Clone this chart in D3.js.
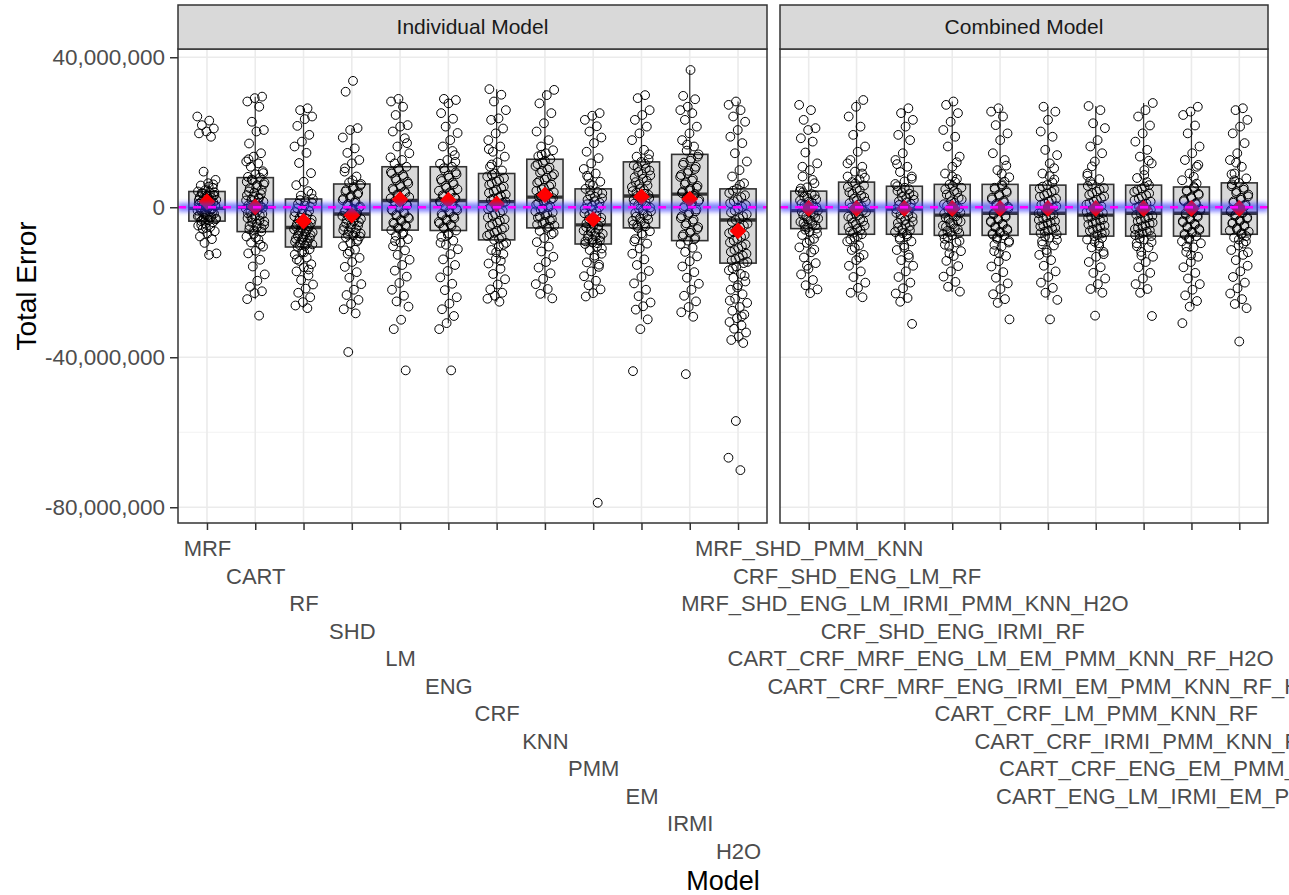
<!DOCTYPE html>
<html>
<head>
<meta charset="utf-8">
<script src="https://cdn.jsdelivr.net/npm/d3@7/dist/d3.min.js"></script>
<style>
  body { margin: 0; background: #fff; }
  text { font-family: 'Liberation Sans', Arial, sans-serif; }
</style>
</head>
<body>
<div id="chart"></div>
<script>
// all error values are in millions

let individualModels = ['MRF', 'CART', 'RF', 'SHD', 'LM', 'ENG', 'CRF', 'KNN', 'PMM', 'EM', 'IRMI', 'H2O']
let combinedModels = ['MRF_SHD_PMM_KNN', 'CRF_SHD_ENG_LM_RF', 'MRF_SHD_ENG_LM_IRMI_PMM_KNN_H2O', 'CRF_SHD_ENG_IRMI_RF',
  'CART_CRF_MRF_ENG_LM_EM_PMM_KNN_RF_H2O', 'CART_CRF_MRF_ENG_IRMI_EM_PMM_KNN_RF_H2O', 'CART_CRF_LM_PMM_KNN_RF',
  'CART_CRF_IRMI_PMM_KNN_RF', 'CART_CRF_ENG_EM_PMM_KNN_RF', 'CART_ENG_LM_IRMI_EM_PMM_KNN_RF_H2O']

// [lower whisker, q1, median, q3, upper whisker]
let individualBoxes = [
  [-12.7, -3.7, -0.3, 4.2, 9.5], [-24.5, -6.5, 0.0, 7.9, 29.5], [-26.9, -10.6, -5.4, 2.2, 26.4],
  [-28.3, -8.0, -1.8, 6.2, 21.1], [-26.5, -6.1, 1.8, 10.8, 28.9], [-30.9, -6.2, 1.8, 10.8, 28.9],
  [-25.2, -8.7, 1.5, 9.0, 31.5], [-24.3, -5.5, 2.7, 12.8, 31.3], [-23.8, -9.8, -4.7, 4.9, 25.1],
  [-29.9, -5.5, 3.0, 12.1, 29.9], [-29.2, -8.9, 3.5, 14.1, 36.6], [-36.2, -14.9, -3.4, 4.9, 28.2]
]
let combinedBoxes = [
  [-22.9, -5.7, -0.9, 4.3, 18.4], [-24.0, -7.2, -0.9, 6.7, 28.6], [-25.2, -7.2, -0.5, 5.6, 26.4],
  [-22.5, -7.5, -2.1, 6.1, 28.2], [-25.5, -7.5, -1.6, 6.1, 26.4], [-24.7, -7.2, -1.6, 5.9, 26.8],
  [-22.8, -7.7, -2.1, 6.1, 27.0], [-22.8, -7.7, -1.6, 5.9, 27.8], [-26.5, -7.7, -1.6, 5.4, 25.5],
  [-26.9, -7.2, -1.6, 6.5, 26.4]
]

let individualMeans = [1.5, 0.1, -3.7, -2.1, 2.1, 1.9, 0.9, 3.3, -3.2, 2.8, 2.2, -6.3]
let combinedMeans = [-0.3, -0.3, -0.3, -0.3, -0.3, -0.3, -0.3, -0.3, -0.3, -0.3]

let individualErrors = [
  [24.2, 23.1, 21.9, 21.0, 20.2, 19.7, 18.8, 9.5, 7.3, 6.4, 5.8, 5.2, 4.6, 4.2, 3.9, 3.6, 3.3, 3.0, 2.7, 2.5, 2.2, 2.0, 1.8, 1.5, 1.3, 1.1, 0.9, 0.7, 0.5, 0.3, 0.1, -0.1, -0.4, -0.6, -0.9, -1.1, -1.4, -1.7, -2.0, -2.3, -2.6, -2.9, -3.2, -3.5, -3.7, -4.0, -4.4, -4.9, -5.3, -5.8, -6.4, -7.0, -7.8, -8.5, -9.5, -12.3, -12.7,
    3.8, 3.1, 2.4, 1.9, 1.6, 0.8, 0.4, -0.2, -0.7, -1.2, -1.9, -2.4, -2.8, -3.3, 4.0, 2.9, 1.0, -0.5, -1.6, -3.0, 5.5, -4.7, 6.1, -5.5],
  [29.5, 29.1, 28.2, 26.8, 22.8, 20.6, 20.2, 17.0, 14.4, 13.5, 12.2, 11.7, 10.8, 9.6, 8.8, 8.1, 7.9, 7.2, 6.6, 5.9, 5.1, 4.6, 3.9, 3.2, 2.6, 2.0, 1.5, 1.0, 0.6, 0.3, 0.0, -0.4, -0.9, -1.3, -1.8, -2.4, -2.9, -3.5, -4.1, -4.7, -5.3, -5.9, -6.5, -7.1, -7.8, -8.6, -9.4, -10.5, -11.6, -12.3, -14.0, -15.8, -17.9, -19.6, -21.2, -22.4, -22.9, -24.5, -28.9,
    7.4, 6.1, 5.4, 4.2, 3.5, 2.8, 1.8, 1.2, 0.4, -0.2, -0.7, -1.6, -2.2, -3.1, -3.8, -4.4, -5.0, -5.6, -6.2, 6.8, 2.3, -2.6, 9.1, -8.1, 12.8, -10.0],
  [26.4, 25.9, 24.2, 23.5, 21.7, 19.3, 17.5, 16.2, 14.5, 11.8, 9.1, 6.8, 5.9, 4.3, 3.1, 2.2, 1.6, 0.9, 0.2, -0.6, -1.3, -2.0, -2.7, -3.3, -3.9, -4.5, -5.0, -5.4, -5.9, -6.4, -6.9, -7.4, -7.9, -8.4, -8.9, -9.4, -9.9, -10.3, -10.6, -11.2, -11.9, -12.6, -13.4, -14.3, -15.2, -16.0, -17.1, -18.2, -19.4, -20.6, -21.7, -22.8, -24.0, -25.3, -26.2, -26.9,
    1.9, 1.2, 0.5, -0.3, -1.0, -1.7, -2.4, -3.0, -3.6, -4.2, -4.8, -5.2, -5.7, -6.2, -6.7, -7.2, -7.7, -8.2, -8.7, -9.2, -9.7, -10.1, 3.6, -12.0, -13.9, -16.6],
  [33.7, 30.8, 21.1, 20.6, 18.6, 15.7, 14.5, 12.6, 11.7, 9.5, 8.2, 6.6, 6.2, 5.4, 4.6, 3.8, 3.0, 2.3, 1.6, 0.9, 0.2, -0.4, -1.0, -1.5, -1.8, -2.3, -2.8, -3.4, -4.0, -4.6, -5.2, -5.8, -6.4, -7.0, -7.5, -8.0, -8.7, -9.5, -10.4, -11.3, -12.4, -13.5, -14.6, -15.9, -17.3, -18.8, -20.5, -22.0, -23.4, -24.7, -25.8, -27.2, -28.3, -38.6,
    5.8, 5.0, 4.2, 3.4, 2.6, 1.9, 1.2, 0.5, -0.1, -0.7, -1.3, -2.0, -2.6, -3.1, -3.7, -4.3, -4.9, -5.5, -6.1, -6.7, -7.3, -7.8, 7.2, 10.4, -9.1, -11.8],
  [28.9, 28.2, 26.8, 24.6, 21.9, 21.5, 20.2, 18.4, 16.2, 14.4, 12.6, 11.7, 10.8, 9.9, 9.0, 8.1, 7.2, 6.3, 5.4, 4.6, 3.8, 3.1, 2.4, 1.8, 1.2, 0.5, -0.2, -0.9, -1.6, -2.3, -3.0, -3.7, -4.4, -5.1, -5.7, -6.1, -6.8, -7.6, -8.5, -9.4, -10.4, -11.5, -12.7, -14.0, -15.4, -16.9, -18.5, -20.2, -22.0, -23.6, -25.1, -26.5, -30.0, -32.5, -43.5,
    10.3, 9.4, 8.6, 7.7, 6.8, 5.9, 5.0, 4.2, 3.4, 2.7, 2.1, 1.5, 0.8, 0.1, -0.6, -1.3, -2.0, -2.7, -3.4, -4.1, -4.8, -5.4, 13.3, -7.2, -9.0, 17.1],
  [28.9, 28.6, 27.7, 25.1, 23.6, 21.5, 19.8, 17.9, 16.2, 13.9, 12.6, 11.6, 10.8, 9.8, 8.8, 7.9, 7.0, 6.1, 5.2, 4.4, 3.6, 2.9, 2.3, 1.8, 1.2, 0.6, -0.1, -0.8, -1.5, -2.2, -2.9, -3.6, -4.3, -5.0, -5.6, -6.2, -7.0, -7.9, -8.9, -10.0, -11.2, -12.5, -13.9, -15.4, -17.0, -18.7, -20.4, -22.1, -24.0, -25.7, -27.2, -29.0, -30.9, -32.5, -43.5,
    10.4, 9.3, 8.4, 7.5, 6.6, 5.7, 4.8, 4.0, 3.2, 2.6, 2.0, 1.5, 0.9, 0.3, -0.4, -1.1, -1.8, -2.5, -3.2, -3.9, -4.6, -5.3, 12.1, -7.4, -9.5, 15.0],
  [31.5, 30.0, 28.2, 25.9, 23.7, 23.3, 21.0, 19.7, 17.9, 16.2, 14.8, 13.5, 12.0, 10.8, 9.8, 9.0, 8.2, 7.3, 6.4, 5.5, 4.6, 3.8, 3.0, 2.3, 1.5, 0.8, 0.0, -0.9, -1.8, -2.7, -3.6, -4.5, -5.4, -6.3, -7.2, -8.0, -8.7, -9.5, -10.4, -11.4, -12.5, -13.7, -15.0, -16.4, -17.8, -19.2, -20.6, -21.9, -22.8, -23.6, -24.4, -25.2,
    8.6, 7.8, 6.9, 6.0, 5.1, 4.2, 3.4, 2.6, 1.9, 1.2, 0.4, -0.5, -1.4, -2.3, -3.2, -4.1, -5.0, -5.9, -6.8, -7.6, -8.4, 11.4, -10.0, -12.0, 15.5, -14.3],
  [31.3, 29.9, 27.7, 25.1, 22.4, 20.2, 17.9, 16.2, 15.2, 14.4, 13.6, 12.8, 11.9, 11.0, 10.1, 9.2, 8.3, 7.4, 6.5, 5.6, 4.8, 4.0, 3.3, 2.7, 2.1, 1.4, 0.7, 0.0, -0.7, -1.4, -2.1, -2.8, -3.5, -4.2, -4.9, -5.5, -6.3, -7.2, -8.2, -9.3, -10.5, -11.8, -13.2, -14.6, -16.1, -17.6, -19.1, -20.5, -21.8, -23.1, -24.3,
    12.4, 11.5, 10.6, 9.7, 8.8, 7.9, 7.0, 6.1, 5.2, 4.4, 3.6, 3.0, 2.4, 1.7, 1.0, 0.3, -0.4, -1.1, -1.8, -2.5, -3.2, -3.9, -4.6, -5.2, 14.0, -6.8],
  [25.1, 24.4, 23.3, 21.6, 20.2, 18.6, 17.1, 14.8, 13.1, 11.7, 10.2, 9.0, 7.9, 6.8, 5.8, 4.9, 4.1, 3.2, 2.4, 1.6, 0.8, 0.0, -0.8, -1.6, -2.4, -3.2, -3.9, -4.7, -5.3, -5.9, -6.5, -7.1, -7.7, -8.3, -8.9, -9.4, -9.8, -10.5, -11.4, -12.4, -13.5, -14.7, -15.9, -17.1, -18.4, -19.6, -20.8, -21.9, -22.9, -23.8, -78.8,
    4.5, 3.7, 2.8, 2.0, 1.2, 0.4, -0.4, -1.2, -2.0, -2.8, -3.5, -4.3, -4.9, -5.6, -6.2, -6.8, -7.4, -8.0, -8.6, -9.1, -9.6, 6.2, -11.0, -12.9, 8.4, -15.3],
  [29.9, 29.1, 25.9, 24.6, 23.3, 21.5, 19.7, 17.9, 15.3, 13.5, 12.8, 12.1, 11.2, 10.3, 9.4, 8.5, 7.6, 6.7, 5.8, 5.0, 4.3, 3.6, 3.0, 2.4, 1.7, 1.0, 0.3, -0.4, -1.1, -1.8, -2.5, -3.2, -3.9, -4.6, -5.1, -5.5, -6.4, -7.4, -8.5, -9.7, -11.0, -12.4, -13.9, -15.4, -17.0, -18.6, -20.3, -22.0, -23.7, -25.4, -26.4, -27.3, -29.9, -32.5, -43.7,
    11.6, 10.7, 9.8, 8.9, 8.0, 7.1, 6.2, 5.4, 4.6, 3.9, 3.3, 2.7, 2.0, 1.3, 0.6, -0.1, -0.8, -1.5, -2.2, -2.9, -3.6, -4.3, -4.9, 14.1, -7.0, -9.1],
  [36.6, 29.7, 28.8, 26.8, 25.9, 25.1, 23.3, 21.5, 19.7, 17.9, 16.2, 15.1, 14.1, 13.0, 11.9, 10.8, 9.7, 8.6, 7.6, 6.6, 5.7, 4.9, 4.2, 3.5, 2.8, 2.0, 1.2, 0.3, -0.6, -1.5, -2.4, -3.3, -4.3, -5.3, -6.3, -7.3, -8.2, -8.9, -9.8, -10.8, -11.9, -13.1, -14.4, -15.8, -17.3, -18.8, -20.4, -22.0, -23.6, -25.1, -26.6, -28.0, -29.2, -44.5,
    13.5, 12.4, 11.3, 10.2, 9.1, 8.1, 7.1, 6.1, 5.2, 4.5, 3.8, 3.1, 2.4, 1.6, 0.7, -0.2, -1.1, -2.0, -2.9, -3.8, -4.8, -5.8, -6.8, -7.8, -8.5, 16.7],
  [28.2, 27.3, 25.9, 24.2, 22.8, 20.6, 18.8, 17.1, 14.4, 12.2, 9.9, 8.2, 6.4, 4.9, 3.8, 2.7, 1.6, 0.6, -0.4, -1.4, -2.4, -3.4, -4.4, -5.4, -6.4, -7.4, -8.4, -9.4, -10.4, -11.4, -12.4, -13.4, -14.2, -14.9, -15.8, -16.8, -17.8, -18.8, -19.8, -20.8, -22.0, -23.2, -24.4, -25.5, -26.6, -27.6, -28.6, -29.6, -30.6, -31.5, -32.4, -33.4, -34.5, -35.4, -36.2, -57.0, -66.8, -70.1,
    4.4, 3.2, 2.1, 1.1, 0.1, -0.9, -1.9, -2.9, -3.9, -4.9, -5.9, -6.9, -7.9, -8.9, -9.9, -10.9, -11.9, -12.9, -13.8, -14.6, 6.0, -16.3, -18.3, -21.4, -24.9, -29.1]
]

let combinedErrors = [
  [27.3, 25.9, 23.3, 21.1, 20.6, 18.4, 17.5, 14.6, 11.7, 9.9, 8.2, 6.4, 5.3, 4.3, 3.5, 2.8, 2.1, 1.5, 0.9, 0.3, -0.3, -0.9, -1.5, -2.1, -2.7, -3.3, -3.9, -4.5, -5.1, -5.7, -6.5, -7.4, -8.4, -9.5, -10.7, -12.0, -13.4, -14.9, -16.4, -17.9, -19.4, -20.8, -21.9, -22.9,
    4.0, 3.2, 2.5, 1.8, 1.2, 0.6, 0.0, -0.6, -1.2, -1.8, -2.4, -3.0, -3.6, -4.2, -4.8, -5.4, 5.0, 7.3, -6.0, -7.0, -8.9, 10.8, -11.3, -15.6],
  [28.6, 26.8, 24.2, 21.5, 19.3, 16.2, 14.8, 12.6, 10.8, 9.5, 8.2, 7.4, 6.7, 5.8, 4.9, 4.0, 3.1, 2.3, 1.5, 0.7, -0.1, -0.9, -1.7, -2.5, -3.3, -4.1, -4.9, -5.7, -6.5, -7.2, -8.1, -9.1, -10.2, -11.4, -12.7, -14.1, -15.6, -17.1, -18.6, -20.1, -21.5, -22.8, -24.0,
    6.3, 5.4, 4.5, 3.6, 2.7, 1.9, 1.1, 0.3, -0.5, -1.3, -2.1, -2.9, -3.7, -4.5, -5.3, -6.1, -6.8, 7.9, -7.7, -8.6, 9.0, -10.8, 11.7, -13.4],
  [26.4, 25.1, 23.3, 21.5, 19.3, 17.9, 14.4, 12.6, 10.8, 9.4, 8.2, 6.9, 5.6, 4.8, 4.0, 3.2, 2.4, 1.6, 0.9, 0.2, -0.5, -1.2, -1.9, -2.6, -3.4, -4.2, -5.0, -5.8, -6.6, -7.2, -8.1, -9.1, -10.2, -11.4, -12.7, -14.1, -15.6, -17.1, -18.6, -20.1, -21.6, -23.0, -24.2, -25.2, -31.1,
    5.2, 4.4, 3.6, 2.8, 2.0, 1.3, 0.6, -0.1, -0.8, -1.5, -2.2, -3.0, -3.8, -4.6, -5.4, -6.2, -6.9, 6.2, -7.7, -8.6, 7.6, -10.8, 11.5, -13.4],
  [28.2, 27.3, 25.1, 22.8, 20.6, 18.8, 16.2, 13.5, 10.8, 9.0, 7.5, 6.1, 5.2, 4.3, 3.4, 2.5, 1.6, 0.8, 0.0, -0.7, -1.4, -2.1, -2.8, -3.5, -4.2, -4.9, -5.6, -6.3, -6.9, -7.5, -8.4, -9.4, -10.5, -11.7, -13.0, -14.3, -15.7, -17.1, -18.5, -19.9, -21.2, -22.5,
    5.7, 4.8, 3.9, 3.0, 2.1, 1.2, 0.4, -0.3, -1.0, -1.7, -2.4, -3.1, -3.8, -4.5, -5.2, -5.9, -6.6, -7.2, 6.8, -8.0, -9.0, 8.2, -10.0, 12.0, -12.3],
  [26.4, 25.5, 24.2, 21.9, 19.7, 17.9, 14.4, 12.6, 9.9, 8.0, 6.1, 5.2, 4.3, 3.4, 2.5, 1.7, 0.9, 0.1, -0.7, -1.6, -2.3, -3.0, -3.7, -4.4, -5.1, -5.8, -6.5, -7.0, -7.5, -8.4, -9.4, -10.5, -11.7, -13.0, -14.4, -15.8, -17.3, -18.8, -20.3, -21.8, -23.2, -24.5, -25.5, -29.9,
    5.7, 4.8, 3.9, 3.0, 2.1, 1.3, 0.5, -0.3, -1.1, -1.9, -2.6, -3.3, -4.0, -4.7, -5.4, -6.1, -6.8, -7.3, 6.8, -8.0, -9.0, 8.9, -10.0, 11.1, -12.3],
  [26.8, 25.5, 23.3, 20.2, 18.8, 15.3, 13.9, 11.7, 9.0, 7.4, 5.9, 5.0, 4.1, 3.2, 2.3, 1.5, 0.7, -0.1, -0.9, -1.6, -2.3, -3.0, -3.7, -4.4, -5.1, -5.8, -6.5, -7.2, -8.1, -9.1, -10.2, -11.4, -12.7, -14.1, -15.6, -17.1, -18.6, -20.1, -21.5, -22.8, -24.7, -29.9,
    5.5, 4.6, 3.7, 2.8, 1.9, 1.1, 0.3, -0.5, -1.3, -2.0, -2.7, -3.4, -4.1, -4.8, -5.5, -6.2, -6.9, 6.6, -7.8, -8.7, 8.3, -9.9, 10.4, -12.1],
  [27.0, 25.9, 22.4, 21.1, 17.9, 16.2, 14.4, 12.2, 9.0, 7.5, 6.1, 5.1, 4.2, 3.3, 2.4, 1.5, 0.7, -0.1, -0.8, -1.5, -2.1, -2.8, -3.5, -4.2, -4.9, -5.6, -6.3, -7.0, -7.7, -8.6, -9.6, -10.7, -11.9, -13.2, -14.6, -16.0, -17.5, -19.0, -20.5, -21.8, -22.8, -28.9,
    5.7, 4.7, 3.8, 2.9, 2.0, 1.1, 0.3, -0.5, -1.2, -1.9, -2.5, -3.2, -3.9, -4.6, -5.3, -6.0, -6.7, -7.4, 6.9, -8.2, -9.2, 8.4, -10.3, 10.9, -12.5],
  [27.8, 25.9, 24.2, 21.8, 19.7, 17.5, 15.3, 13.5, 11.7, 9.9, 7.8, 5.9, 5.0, 4.1, 3.2, 2.3, 1.5, 0.7, -0.1, -0.9, -1.6, -2.3, -3.0, -3.7, -4.4, -5.1, -5.8, -6.5, -7.1, -7.7, -8.6, -9.6, -10.7, -11.9, -13.2, -14.6, -16.0, -17.5, -19.0, -20.5, -21.8, -22.8, -29.0,
    5.5, 4.6, 3.7, 2.8, 1.9, 1.0, 0.2, -0.6, -1.3, -2.0, -2.7, -3.4, -4.1, -4.8, -5.5, -6.2, -6.9, -7.4, 6.7, -8.3, -9.3, 8.6, -10.4, 12.4, -12.9],
  [26.8, 25.5, 24.6, 21.8, 19.7, 16.2, 14.4, 12.6, 10.8, 9.0, 7.2, 5.4, 4.5, 3.6, 2.7, 1.9, 1.1, 0.3, -0.5, -1.2, -1.6, -2.3, -3.0, -3.7, -4.4, -5.1, -5.8, -6.5, -7.1, -7.7, -8.6, -9.6, -10.7, -11.9, -13.2, -14.6, -16.0, -17.5, -19.0, -20.5, -22.0, -23.5, -25.0, -26.5, -30.9,
    5.1, 4.2, 3.3, 2.4, 1.6, 0.8, 0.0, -0.8, -1.4, -2.0, -2.6, -3.3, -4.0, -4.7, -5.4, -6.1, -6.8, -7.4, 6.3, -8.2, -9.1, 8.1, -10.5, 11.3, -12.8],
  [26.4, 25.9, 23.3, 21.5, 19.7, 17.1, 14.4, 12.6, 10.8, 9.0, 7.7, 6.5, 5.6, 4.7, 3.8, 2.9, 2.0, 1.2, 0.4, -0.4, -1.2, -1.6, -2.3, -3.0, -3.7, -4.4, -5.1, -5.8, -6.5, -7.2, -8.1, -9.1, -10.2, -11.4, -12.7, -14.1, -15.6, -17.1, -18.6, -20.1, -21.6, -23.0, -24.5, -25.8, -26.9, -35.8,
    6.1, 5.2, 4.3, 3.4, 2.5, 1.6, 0.8, 0.0, -0.8, -1.4, -2.0, -2.7, -3.4, -4.1, -4.8, -5.5, -6.2, -6.9, 7.2, -7.7, -8.6, 8.8, -9.7, 11.9, -12.0]
]

let majorTicks = [-80, -40, 0, 40]
let minorTicks = [-60, -20, 20]
let facetTitles = ['Individual Model', 'Combined Model']

let width = 1289,
  height = 895,
  panelTop = 49,
  panelBottom = 523,
  stripTop = 5,
  labelStep = 27.5, // vertical offset between stacked x labels
  jitterWidth = 0.2, // in category units
  boxWidth = 0.75

let panels = [
  { title: facetTitles[0], models: individualModels, boxes: individualBoxes, means: individualMeans, errors: individualErrors, x0: 178, x1: 767 },
  { title: facetTitles[1], models: combinedModels, boxes: combinedBoxes, means: combinedMeans, errors: combinedErrors, x0: 780, x1: 1268 }
]

let y = d3.scaleLinear()
  .domain([-84.2, 42.2])
  .range([panelBottom, panelTop])

let svg = d3.select('#chart').append('svg')
  .attr('width', width)
  .attr('height', height)
  .style('background', '#fff')

let defs = svg.append('defs')
defs.append('filter')
  .attr('id', 'glow')
  .attr('filterUnits', 'userSpaceOnUse')
  .attr('x', 0).attr('y', y(0) - 20).attr('width', width).attr('height', 40)
  .append('feGaussianBlur')
  .attr('stdDeviation', 2)

panels.forEach(function (p, pi) {
  let x = d3.scalePoint()
    .domain(p.models)
    .range([p.x0, p.x1])
    .padding(0.6)
  let step = x.step()

  defs.append('clipPath')
    .attr('id', 'clip' + pi)
    .append('rect')
    .attr('x', p.x0).attr('y', panelTop)
    .attr('width', p.x1 - p.x0).attr('height', panelBottom - panelTop)

  let g = svg.append('g')

  // panel background + grid
  g.append('rect')
    .attr('x', p.x0).attr('y', panelTop)
    .attr('width', p.x1 - p.x0).attr('height', panelBottom - panelTop)
    .attr('fill', '#fff')

  g.selectAll('.minor').data(minorTicks).enter().append('line')
    .attr('x1', p.x0).attr('x2', p.x1)
    .attr('y1', d => y(d)).attr('y2', d => y(d))
    .attr('stroke', '#f2f2f2').attr('stroke-width', 1)

  g.selectAll('.major').data(majorTicks).enter().append('line')
    .attr('x1', p.x0).attr('x2', p.x1)
    .attr('y1', d => y(d)).attr('y2', d => y(d))
    .attr('stroke', '#ebebeb').attr('stroke-width', 1.6)

  g.selectAll('.vgrid').data(p.models).enter().append('line')
    .attr('x1', d => x(d)).attr('x2', d => x(d))
    .attr('y1', panelTop).attr('y2', panelBottom)
    .attr('stroke', '#ebebeb').attr('stroke-width', 1.6)

  let plot = g.append('g').attr('clip-path', 'url(#clip' + pi + ')')

  // whiskers
  plot.selectAll('.whisker').data(p.boxes).enter().append('line')
    .attr('x1', (d, i) => x(p.models[i])).attr('x2', (d, i) => x(p.models[i]))
    .attr('y1', d => y(d[0])).attr('y2', d => y(d[4]))
    .attr('stroke', '#333').attr('stroke-width', 1.2)

  // boxes
  plot.selectAll('.box').data(p.boxes).enter().append('rect')
    .attr('x', (d, i) => x(p.models[i]) - boxWidth * step / 2)
    .attr('width', boxWidth * step)
    .attr('y', d => y(d[3]))
    .attr('height', d => y(d[1]) - y(d[3]))
    .attr('fill', '#d9d9d9')
    .attr('stroke', '#333').attr('stroke-width', 1.6)

  plot.selectAll('.median').data(p.boxes).enter().append('line')
    .attr('x1', (d, i) => x(p.models[i]) - boxWidth * step / 2)
    .attr('x2', (d, i) => x(p.models[i]) + boxWidth * step / 2)
    .attr('y1', d => y(d[2])).attr('y2', d => y(d[2]))
    .attr('stroke', '#333').attr('stroke-width', 3.4)

  // jittered observations
  p.errors.forEach(function (vals, ci) {
    plot.append('g').selectAll('circle')
      .data(vals)
      .enter().append('circle')
      .attr('cx', (d, i) => x(p.models[ci]) + ((((i + ci * 3) * 0.6180339887) % 1) - 0.5) * 2 * jitterWidth * step)
      .attr('cy', d => y(d))
      .attr('r', 4.4)
      .attr('fill', 'none')
      .attr('stroke', '#000')
      .attr('stroke-width', 1)
  })

  // means
  plot.selectAll('.mean').data(p.means).enter().append('path')
    .attr('d', d3.symbol().type(d3.symbolDiamond2).size(175))
    .attr('transform', (d, i) => 'translate(' + x(p.models[i]) + ',' + y(d) + ')')
    .attr('fill', '#ff0000')

  // reference line at zero: soft blue band under a dashed magenta line
  plot.append('rect')
    .attr('x', p.x0).attr('width', p.x1 - p.x0)
    .attr('y', y(0) - 4.5).attr('height', 9)
    .attr('fill', '#3535ff').attr('fill-opacity', 0.6)
    .attr('filter', 'url(#glow)')
  plot.append('line')
    .attr('x1', p.x0).attr('x2', p.x1)
    .attr('y1', y(0)).attr('y2', y(0))
    .attr('stroke', '#ff00ff').attr('stroke-width', 2.6)
    .attr('stroke-dasharray', '8,7')

  // panel border
  g.append('rect')
    .attr('x', p.x0).attr('y', panelTop)
    .attr('width', p.x1 - p.x0).attr('height', panelBottom - panelTop)
    .attr('fill', 'none')
    .attr('stroke', '#333').attr('stroke-width', 1.5)

  // strip
  g.append('rect')
    .attr('x', p.x0).attr('y', stripTop)
    .attr('width', p.x1 - p.x0).attr('height', panelTop - stripTop)
    .attr('fill', '#d9d9d9')
    .attr('stroke', '#333').attr('stroke-width', 1.5)
  g.append('text')
    .attr('x', (p.x0 + p.x1) / 2)
    .attr('y', (stripTop + panelTop) / 2)
    .attr('dy', '0.35em')
    .attr('text-anchor', 'middle')
    .attr('font-size', '21px')
    .attr('fill', '#1a1a1a')
    .text(p.title)

  // x axis with stacked labels
  let xAxis = svg.append('g')
    .attr('transform', 'translate(0,' + panelBottom + ')')
    .call(d3.axisBottom(x).tickSize(7).tickSizeOuter(0))
  xAxis.select('.domain').remove()
  xAxis.selectAll('.tick line').attr('stroke', '#333').attr('stroke-width', 1.5)
  xAxis.selectAll('.tick text')
    .attr('dy', null)
    .attr('y', (d, i) => 33 + i * labelStep)
    .attr('fill', '#4d4d4d')
    .attr('font-size', '22px')
    .attr('font-family', "'Liberation Sans', Arial, sans-serif")
})

// y axis
let yAxis = svg.append('g')
  .attr('transform', 'translate(' + panels[0].x0 + ',0)')
  .call(d3.axisLeft(y).tickValues(majorTicks).tickSize(8).tickPadding(5)
    .tickFormat(d => d3.format(',')(d * 1e6).replace('\u2212', '-')))
yAxis.select('.domain').remove()
yAxis.selectAll('.tick line').attr('stroke', '#333').attr('stroke-width', 1.5)
yAxis.selectAll('.tick text')
  .attr('fill', '#4d4d4d')
  .attr('font-size', '22.5px')
  .attr('font-family', "'Liberation Sans', Arial, sans-serif")

// axis titles
svg.append('text')
  .attr('transform', 'translate(36,' + (panelTop + panelBottom) / 2 + ') rotate(-90)')
  .attr('text-anchor', 'middle')
  .attr('font-size', '28px')
  .attr('fill', '#000')
  .text('Total Error')

svg.append('text')
  .attr('x', (panels[0].x0 + panels[1].x1) / 2)
  .attr('y', 890)
  .attr('text-anchor', 'middle')
  .attr('font-size', '27px')
  .attr('fill', '#000')
  .text('Model')
</script>
</body>
</html>
